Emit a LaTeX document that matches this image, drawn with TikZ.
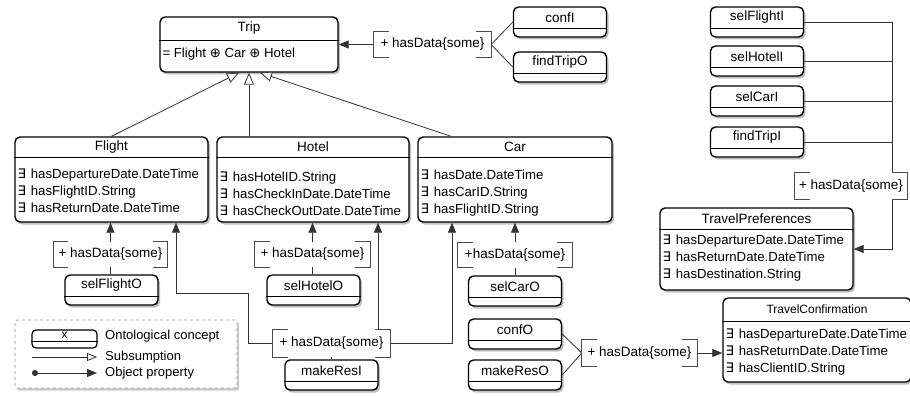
\documentclass[tikz,border=0pt]{standalone}
\usepackage{fontspec}
\setmainfont{Liberation Sans}
\newfontfamily\dejavu{DejaVu Sans}
\usetikzlibrary{shapes,arrows.meta,positioning,calc,shadows}

\newcommand{\exq}{{\dejavu ∃}\hspace{5pt}}
\newcommand{\xsum}{{\dejavu ⊕}}

\begin{document}
\begin{tikzpicture}[x=1pt, y=-1pt,
    font=\fontsize{13.5}{16}\selectfont,
    concept/.style={draw, line width=1.4pt, rounded corners=5pt, fill=white,
      drop shadow={shadow xshift=2pt, shadow yshift=-2.5pt, opacity=.5}},
    opbox/.style={concept, minimum width=93, minimum height=30},
    ctitle/.style={inner sep=0pt},
    cbody/.style={anchor=west, align=left, inner xsep=3pt, inner ysep=0pt,
      font=\fontsize{13.2}{17}\selectfont},
    divider/.style={line width=1pt},
    conn/.style={draw=black!80, line width=0.8pt},
    objprop/.style={conn, -{Triangle[length=10pt, width=8pt]}},
    subs/.style={conn, -{Triangle[length=12pt, width=10pt, fill=white]}},
    haslbl/.style={fill=white, inner sep=0pt, minimum width=115, minimum height=25},
    bracket/.style={draw=black!70, line width=0.8pt},
    legendbox/.style={draw=black!40, dashed, line width=0.8pt, fill=white, rounded corners=2pt,
      drop shadow={shadow xshift=2pt, shadow yshift=-2.5pt, opacity=.4}}]
  \useasboundingbox (0,0) rectangle (910,396);

  % concepts
  \node[concept, minimum width=178, minimum height=55] (trip) at (249,44.5) {};
  \node[ctitle] (trip-t) at ([yshift=-12]trip.north) {Trip};
  \draw[divider] ([yshift=-24]trip.north west) -- ([yshift=-24]trip.north east);
  \node[cbody] (trip-b) at ([yshift=-38]trip.north west) {= Flight \xsum{} Car \xsum{} Hotel};

  \node[concept, minimum width=193, minimum height=85] (flight) at (111.5,179.5) {};
  \node[ctitle] (flight-t) at ([yshift=-10.5]flight.north) {Flight};
  \draw[divider] ([yshift=-21]flight.north west) -- ([yshift=-21]flight.north east);
  \node[cbody] (flight-b) at ([yshift=-54.5]flight.north west)
    {\exq hasDepartureDate.DateTime\\ \exq hasFlightID.String\\ \exq hasReturnDate.DateTime};

  \node[concept, minimum width=192, minimum height=85] (hotel) at (313,179.5) {};
  \node[ctitle] (hotel-t) at ([yshift=-10.5]hotel.north) {Hotel};
  \draw[divider] ([yshift=-21]hotel.north west) -- ([yshift=-21]hotel.north east);
  \node[cbody] (hotel-b) at ([yshift=-57.5]hotel.north west)
    {\exq hasHotelID.String\\ \exq hasCheckInDate.DateTime\\ \exq hasCheckOutDate.DateTime};

  \node[concept, minimum width=194, minimum height=85] (car) at (515,179.5) {};
  \node[ctitle] (car-t) at ([yshift=-10.5]car.north) {Car};
  \draw[divider] ([yshift=-21]car.north west) -- ([yshift=-21]car.north east);
  \node[cbody] (car-b) at ([yshift=-56.5]car.north west)
    {\exq hasDate.DateTime\\ \exq hasCarID.String\\ \exq hasFlightID.String};

  \node[concept, minimum width=193, minimum height=82] (prefs) at (756.5,249) {};
  \node[ctitle] (prefs-t) at ([yshift=-11]prefs.north) {TravelPreferences};
  \draw[divider] ([yshift=-22]prefs.north west) -- ([yshift=-22]prefs.north east);
  \node[cbody] (prefs-b) at ([yshift=-50.5]prefs.north west)
    {\exq hasDepartureDate.DateTime\\ \exq hasReturnDate.DateTime\\ \exq hasDestination.String};

  \node[concept, minimum width=188, minimum height=84] (tconf) at (817,340) {};
  \node[ctitle, font=\fontsize{12}{14}\selectfont] (tconf-t) at ([yshift=-12]tconf.north) {TravelConfirmation};
  \draw[divider] ([yshift=-24]tconf.north west) -- ([yshift=-24]tconf.north east);
  \node[cbody] (tconf-b) at ([yshift=-54.5]tconf.north west)
    {\exq hasDepartureDate.DateTime\\ \exq hasReturnDate.DateTime\\ \exq hasClientID.String};

  % operations
  \foreach \n/\x/\y in {confI/560/22, findTripO/560/67, selFlightI/757/22, selHotelI/757/61,
      selCarI/757/101, findTripI/757/142, selFlightO/111.5/290, selHotelO/313.5/290,
      selCarO/515/291, makeResI/331.5/375, confO/515/334, makeResO/515/375} {
    \node[opbox] (\n) at (\x,\y) {};
    \node[ctitle] (\n-t) at ([yshift=-11]\n.north) {\n};
    \draw[divider] ([yshift=-22]\n.north west) -- ([yshift=-22]\n.north east);
  }

  % subsumption
  \draw[subs] (flight.north) -- ([xshift=-10]trip.south);
  \draw[subs] (hotel.north -| trip.south) -- (trip.south);
  \draw[subs] ([xshift=-64]car.north) -- ([xshift=11]trip.south);

  % hasData labels
  \node[haslbl, minimum width=117] (trip-has) at (432.5,44.5) {+ hasData\{some\}};
  \node[haslbl, minimum width=114] (flight-has) at (110.5,254.5) {+ hasData\{some\}};
  \node[haslbl] (hotel-has) at (312.5,254.5) {+ hasData\{some\}};
  \node[haslbl, minimum width=114] (car-has) at (515,255) {+hasData\{some\}};
  \node[haslbl, minimum width=117, minimum height=27] (res-has) at (331.5,343.5) {+ hasData\{some\}};
  \node[haslbl, minimum height=26] (conf-has) at (639.5,353) {+ hasData\{some\}};
  \coordinate (bus) at (892,249);

  % object properties
  \draw[objprop] (trip-has.west) -- (trip.east);
  \draw[conn] (trip-has.east) -- (confI.west);
  \draw[conn] (trip-has.east) -- (findTripO.west);

  \draw[objprop] (selFlightI.east) -| (bus) -- (bus -| prefs.east);
  \foreach \n in {selHotelI, selCarI, findTripI}
    \draw[conn] (\n.east) -- (\n.east -| bus);
  \node[haslbl, minimum width=112, minimum height=26] (pref-has) at (851,186) {+ hasData\{some\}};

  \draw[objprop] (flight-has.north) -- (flight-has.north |- flight.south);
  \draw[conn] (flight-has.south) -- (flight-has.south |- selFlightO.north);
  \draw[objprop] (hotel-has.north) -- (hotel-has.north |- hotel.south);
  \draw[conn] (hotel-has.south) -- (hotel-has.south |- selHotelO.north);
  \draw[objprop] (car-has.north) -- (car-has.north |- car.south);
  \draw[conn] (car-has.south) -- (car-has.south |- selCarO.north);

  \draw[conn] (res-has.south) -- (res-has.south |- makeResI.north);
  \draw[objprop] (res-has.west) -| (248,293) -| ([xshift=64.5]flight.south);
  \draw[objprop] ([xshift=46.5]res-has.north) -- ([xshift=46.5]res-has.north |- hotel.south);
  \draw[objprop] (res-has.east) -| ([xshift=-63]car.south);

  \draw[conn] (confO.east) -- (conf-has.west);
  \draw[conn] (makeResO.east) -- (conf-has.west);
  \draw[objprop] (conf-has.east) -- (conf-has.east -| tconf.west);

  \foreach \l in {trip-has, flight-has, hotel-has, car-has, res-has, conf-has, pref-has}
    \draw[bracket] ([xshift=15]\l.north west) -- (\l.north west) -- (\l.south west) -- ([xshift=15]\l.south west)
      ([xshift=-15]\l.north east) -- (\l.north east) -- (\l.south east) -- ([xshift=-15]\l.south east);

  % legend
  \node[legendbox, minimum width=222, minimum height=68] (legend) at (126,354) {};
  \node[draw, line width=1.2pt, rounded corners=4pt, minimum width=65, minimum height=18] (lg-c) at (64.5,339) {};
  \node[ctitle, font=\fontsize{12}{14}\selectfont] (lg-ct) at ([yshift=-6]lg-c.north) {x};
  \draw[divider] ([yshift=-12]lg-c.north west) -- ([yshift=-12]lg-c.north east);
  \node[anchor=west, inner sep=0pt, font=\fontsize{13}{15}\selectfont] (lg-t1) at (105,336) {Ontological concept};
  \node[anchor=west, inner sep=0pt, font=\fontsize{13}{15}\selectfont] (lg-t2) at (105,357) {Subsumption};
  \node[anchor=west, inner sep=0pt, font=\fontsize{13}{15}\selectfont] (lg-t3) at (105,373) {Object property};
  \coordinate (lg-s1) at (32,357);
  \coordinate (lg-s2) at (97,357);
  \coordinate (lg-o1) at (32,373);
  \coordinate (lg-o2) at (97,373);
  \draw[subs, -{Triangle[length=10pt, width=8pt, fill=white]}] (lg-s1) -- (lg-s2);
  \draw[objprop, {Circle[length=6pt]}-{Triangle[length=10pt, width=8pt]}] (lg-o1) -- (lg-o2);
\end{tikzpicture}
\end{document}
